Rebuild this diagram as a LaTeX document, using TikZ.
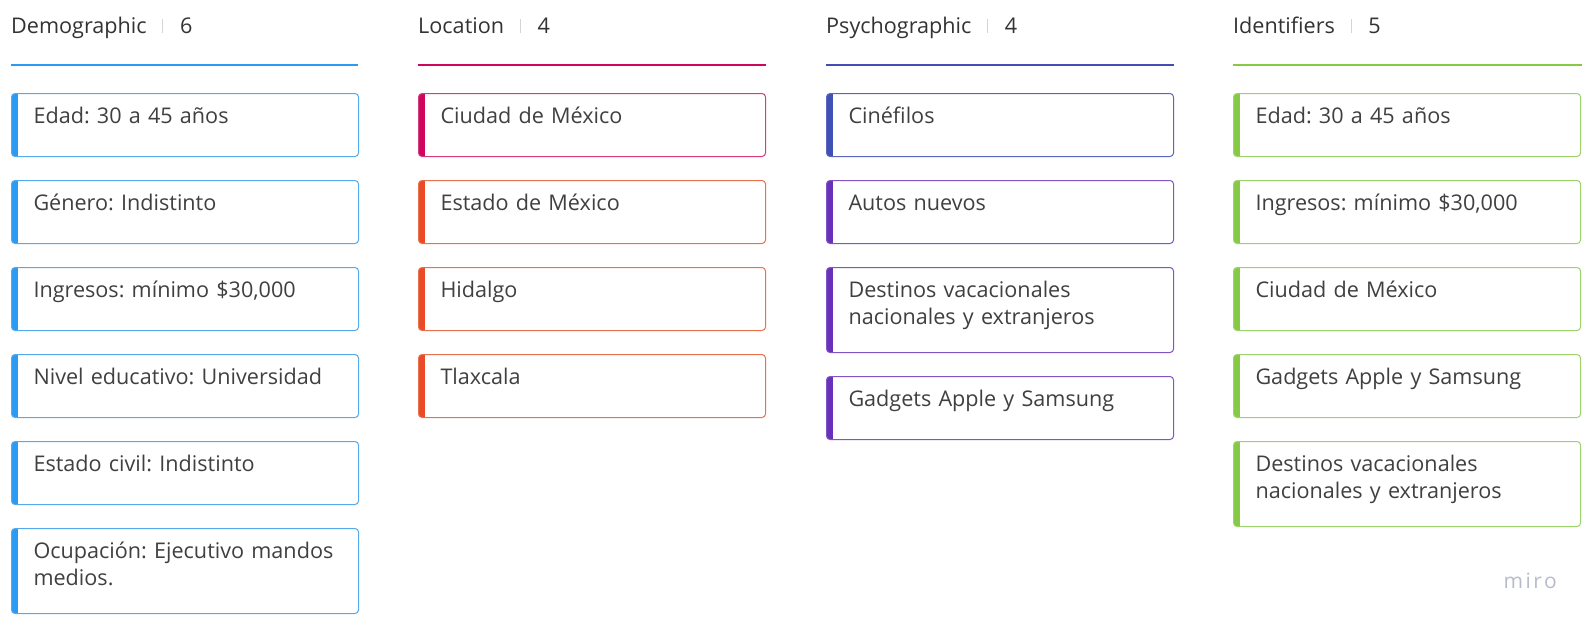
\documentclass[tikz,border=0pt]{standalone}
\usepackage{fontspec}
\setmainfont{Open Sans}
\newfontfamily\mirofont[LetterSpace=12]{Open Sans}
\usetikzlibrary{positioning}
\frenchspacing

\definecolor{hdrtext}{HTML}{333333}
\definecolor{cardtext}{HTML}{404040}
\definecolor{sepgray}{HTML}{D4D4D4}
\definecolor{mirogray}{HTML}{B8BCCA}
\definecolor{demblue}{HTML}{2B9AF3}
\definecolor{demblueln}{HTML}{55AAEE}
\definecolor{locpink}{HTML}{D0065E}
\definecolor{locpinkln}{HTML}{D43C7E}
\definecolor{locred}{HTML}{EA4A25}
\definecolor{locredln}{HTML}{E8714F}
\definecolor{psyind}{HTML}{3F51B5}
\definecolor{psyindln}{HTML}{5A66C0}
\definecolor{psypur}{HTML}{6930B9}
\definecolor{psypurln}{HTML}{8254C6}
\definecolor{idgreen}{HTML}{86C945}
\definecolor{idgreenln}{HTML}{9DD36C}

\tikzset{
	hdr/.style={anchor=base west,inner sep=0pt,font=\fontsize{21.6}{27}\selectfont,text=hdrtext},
	sep/.style={draw=sepgray,line width=1pt},
	hline/.style={line width=2pt},
	card/.style 2 args={draw=#2,line width=1pt,rounded corners=3.5pt,anchor=north west,
		text width=303pt,inner xsep=22pt,inner ysep=0pt,align=left,
		text height=30pt,text depth=33pt,
		font=\fontsize{21.6}{27}\selectfont,text=cardtext,
		path picture={\fill[#1,sharp corners] (path picture bounding box.north west)
			rectangle ([xshift=6pt]path picture bounding box.south west);}},
	tall/.style={text depth=55pt}
}

\begin{document}
\begin{tikzpicture}[x=1pt,y=-1pt,node distance=23pt]

	\useasboundingbox[fill=white] (0,0) rectangle (1594,627);

	% Demographic
	\node[hdr] (demH) at (11,33) {Demographic};
	\draw[sep] ([xshift=16pt]demH.base east) -- ++(0,-14);
	\node[hdr] (demN) at ([xshift=33pt]demH.base east) {6};
	\draw[hline,demblue] (11,65) -- (358,65);

	\node[card={demblue}{demblueln}]                   (dem1) at (11,93) {Edad: 30 a 45 años};
	\node[card={demblue}{demblueln},below=of dem1]      (dem2) {Género: Indistinto};
	\node[card={demblue}{demblueln},below=of dem2]      (dem3) {Ingresos: mínimo \$30,000};
	\node[card={demblue}{demblueln},below=of dem3]      (dem4) {Nivel educativo: Universidad};
	\node[card={demblue}{demblueln},below=of dem4]      (dem5) {Estado civil: Indistinto};
	\node[card={demblue}{demblueln},tall,below=of dem5] (dem6) {Ocupación: Ejecutivo mandos\\medios.};

	% Location
	\node[hdr] (locH) at (418,33) {Location};
	\draw[sep] ([xshift=16pt]locH.base east) -- ++(0,-14);
	\node[hdr] (locN) at ([xshift=33pt]locH.base east) {4};
	\draw[hline,locpink] (418,65) -- (766,65);

	\node[card={locpink}{locpinkln}]             (loc1) at (418,93) {Ciudad de México};
	\node[card={locred}{locredln},below=of loc1] (loc2) {Estado de México};
	\node[card={locred}{locredln},below=of loc2] (loc3) {Hidalgo};
	\node[card={locred}{locredln},below=of loc3] (loc4) {Tlaxcala};

	% Psychographic
	\node[hdr] (psyH) at (826,33) {Psychographic};
	\draw[sep] ([xshift=16pt]psyH.base east) -- ++(0,-14);
	\node[hdr] (psyN) at ([xshift=33pt]psyH.base east) {4};
	\draw[hline,psyind!85!psypur] (826,65) -- (1174,65);

	\node[card={psyind}{psyindln}]                   (psy1) at (826,93) {Cinéfilos};
	\node[card={psypur}{psypurln},below=of psy1]      (psy2) {Autos nuevos};
	\node[card={psypur}{psypurln},tall,below=of psy2] (psy3) {Destinos vacacionales\\nacionales y extranjeros};
	\node[card={psypur}{psypurln},below=of psy3]      (psy4) {Gadgets Apple y Samsung};

	% Identifiers
	\node[hdr] (idH) at (1233,33) {Identifiers};
	\draw[sep] ([xshift=16pt]idH.base east) -- ++(0,-14);
	\node[hdr] (idN) at ([xshift=33pt]idH.base east) {5};
	\draw[hline,idgreen] (1233,65) -- (1582,65);

	\node[card={idgreen}{idgreenln}]                  (id1) at (1233,93) {Edad: 30 a 45 años};
	\node[card={idgreen}{idgreenln},below=of id1]      (id2) {Ingresos: mínimo \$30,000};
	\node[card={idgreen}{idgreenln},below=of id2]      (id3) {Ciudad de México};
	\node[card={idgreen}{idgreenln},below=of id3]      (id4) {Gadgets Apple y Samsung};
	\node[card={idgreen}{idgreenln},tall,below=of id4] (id5) {Destinos vacacionales\\nacionales y extranjeros};

	\node[anchor=base east,inner sep=0pt,text=mirogray,font=\mirofont\fontsize{21}{27}\selectfont] (miro) at (1557,588) {miro};

\end{tikzpicture}
\end{document}
